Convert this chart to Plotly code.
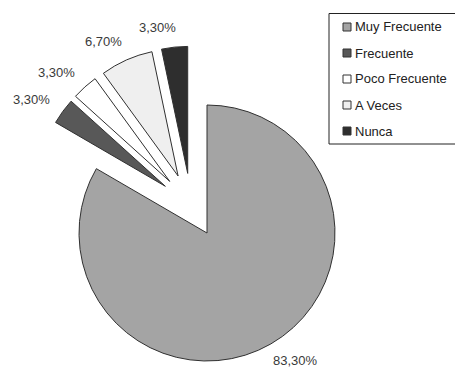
import math
import plotly.graph_objects as go

# Frequency categories and their shares (%)
categories = ["Muy Frecuente", "Frecuente", "Poco Frecuente", "A Veces", "Nunca"]
values = [83.3, 3.3, 3.3, 6.7, 3.3]
colors = ["#a4a4a4", "#585858", "#ffffff", "#efefef", "#2e2e2e"]

W, H = 455, 367
CLEAR = "rgba(0,0,0,0)"
EDGE = "#303030"
FONT = "Liberation Sans, Arial, sans-serif"

# percentage labels with a decimal comma, built from the values
labels_txt = [f"{v:.2f}".replace(".", ",") + "%" for v in values]


def xdom(cx, half):
    return [(cx - half) / W, (cx + half) / W]


def ydom(cy, half):
    return [(H - (cy + half)) / H, (H - (cy - half)) / H]


big = [i == 0 for i in range(len(values))]

# pie geometry in pixels
main_c, r_main = (207, 233), 128           # main slice
small_c, r_small, pull = (191, 205), 127, 0.25  # exploded group

fig = go.Figure()

fig.add_trace(go.Pie(
    labels=categories, values=values, sort=False, direction="clockwise", rotation=0,
    marker=dict(colors=[c if b else CLEAR for c, b in zip(colors, big)],
                line=dict(color=[EDGE if b else CLEAR for b in big], width=1)),
    textinfo="none",
    domain=dict(x=xdom(main_c[0], r_main), y=ydom(main_c[1], r_main)),
    showlegend=False, hoverinfo="skip", automargin=False,
))

half = r_small * (1 + pull)
fig.add_trace(go.Pie(
    labels=categories, values=values, sort=False, direction="clockwise", rotation=0,
    pull=[0 if b else pull for b in big],
    marker=dict(colors=[CLEAR if b else c for c, b in zip(colors, big)],
                line=dict(color=[CLEAR if b else EDGE for b in big], width=1)),
    textinfo="none",
    domain=dict(x=xdom(small_c[0], half), y=ydom(small_c[1], half)),
    showlegend=False, hoverinfo="skip", automargin=False,
))

annotations = []

# percentage labels placed just outside each slice, along its mid angle
total = sum(values)
cum = 0.0
for v, txt, b in zip(values, labels_txt, big):
    mid = math.radians((cum + v / 2) / total * 360)
    cum += v
    dx, dy = math.sin(mid), -math.cos(mid)
    if b:
        tx, ty = main_c
    else:
        tx = small_c[0] + pull * r_small * dx
        ty = small_c[1] + pull * r_small * dy
    lx = tx + 147 * dx + math.copysign(15, dx)
    ly = ty + 147 * dy
    annotations.append(dict(text=txt, xref="paper", yref="paper", x=lx / W, y=1 - ly / H,
                            xanchor="center", yanchor="middle", showarrow=False,
                            font=dict(family=FONT, size=13, color="#3a3a3a")))

# boxed legend at the top right
shapes = [dict(type="rect", xref="paper", yref="paper",
               x0=329 / W, x1=460 / W, y0=1 - 144 / H, y1=1 - 13.5 / H,
               line=dict(color="#222222", width=1), fillcolor="white", layer="below")]
for i, (name, col) in enumerate(zip(categories, colors)):
    yc = 27 + 26 * i
    shapes.append(dict(type="rect", xref="paper", yref="paper",
                       x0=343 / W, x1=351 / W, y0=1 - (yc + 4) / H, y1=1 - (yc - 4) / H,
                       line=dict(color="#333333", width=1), fillcolor=col))
    annotations.append(dict(text=name, xref="paper", yref="paper", x=353 / W, y=1 - yc / H,
                            xanchor="left", yanchor="middle", showarrow=False,
                            font=dict(family=FONT, size=13, color="#222222")))

fig.update_layout(
    width=W, height=H, margin=dict(l=0, r=0, t=0, b=0, autoexpand=False),
    showlegend=False,
    paper_bgcolor="white", plot_bgcolor="white",
    shapes=shapes, annotations=annotations,
)

fig.write_html("out.html")
